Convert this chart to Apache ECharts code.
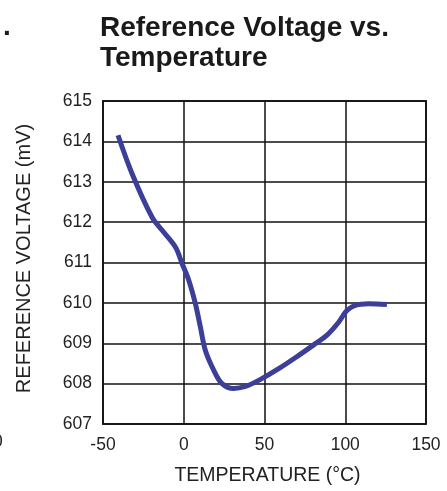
<!DOCTYPE html>
<html>
<head>
<meta charset="utf-8">
<script src="https://cdn.jsdelivr.net/npm/echarts@6/dist/echarts.min.js"></script>
<style>
  html, body { margin: 0; padding: 0; background: #fff; }
  #chart { width: 447px; height: 491px; }
</style>
</head>
<body>
<div id="chart"></div>
<script>
// Reference voltage (mV) measured across temperature (°C)
const temperature = [-40.7, -32, -19.6, -13.4, -5.1, -1, 3.1, 7.2, 10.3, 13.4, 18.6, 23.7, 30.9, 38.2, 46.4, 58.8, 71.2, 81.5, 88.7, 95.9, 101, 106.2, 114.5, 125.8];
const voltage     = [614.15, 613.2, 612.12, 611.8, 611.38, 610.97, 610.56, 609.98, 609.4, 608.82, 608.33, 608.0, 607.88, 607.93, 608.08, 608.37, 608.7, 608.99, 609.2, 609.52, 609.81, 609.94, 609.98, 609.96];

const xTicks = [-50, 0, 50, 100, 150];
const yTicks = [607, 608, 609, 610, 611, 612, 613, 614, 615];

const FONT = '"Liberation Sans", Arial, sans-serif';

const chart = echarts.init(document.getElementById('chart'), null, { renderer: 'canvas' });
chart.setOption({
  animation: false,
  title: {
    text: 'Reference Voltage vs.\nTemperature',
    left: 95,
    top: 8,
    textStyle: {
      fontFamily: FONT,
      fontSize: 28,
      fontWeight: 'bold',
      color: '#1a1a1a',
      lineHeight: 30
    }
  },
  graphic: [
    // edge of the neighbouring panel's heading and axis label
    { type: 'text', left: 3, top: 13, style: { text: '.', font: 'bold 28px ' + FONT, fill: '#1a1a1a' } },
    { type: 'text', left: -7, top: 433, style: { text: '0', font: '17.5px ' + FONT, fill: '#222' } }
  ],
  grid: {
    left: 103,
    top: 101,
    width: 323,
    height: 323,
    show: true,
    borderColor: '#333',
    borderWidth: 2,
    containLabel: false
  },
  xAxis: {
    type: 'value',
    min: xTicks[0],
    max: xTicks[xTicks.length - 1],
    interval: 50,
    name: 'TEMPERATURE (°C)',
    nameLocation: 'middle',
    nameGap: 42,
    nameTextStyle: { fontFamily: FONT, fontSize: 19.5, color: '#222', padding: [0, 0, 0, 6] },
    axisLine: { show: false },
    axisTick: { show: false },
    axisLabel: { fontFamily: FONT, fontSize: 17.5, color: '#222', margin: 12 },
    splitLine: { show: true, lineStyle: { color: '#111', width: 1.5 } }
  },
  yAxis: {
    type: 'value',
    min: yTicks[0],
    max: yTicks[yTicks.length - 1],
    interval: 1,
    name: 'REFERENCE VOLTAGE (mV)',
    nameLocation: 'middle',
    nameGap: 69,
    nameRotate: 90,
    nameTextStyle: { fontFamily: FONT, fontSize: 20, color: '#222', padding: [0, 0, 0, 8] },
    axisLine: { show: false },
    axisTick: { show: false },
    axisLabel: { fontFamily: FONT, fontSize: 17.5, color: '#222', margin: 11 },
    splitLine: { show: true, lineStyle: { color: '#111', width: 1.5 } }
  },
  series: [{
    type: 'line',
    data: temperature.map((t, i) => [t, voltage[i]]),
    smooth: 0.35,
    showSymbol: false,
    lineStyle: { color: '#3b3f98', width: 5, cap: 'butt', join: 'round' }
  }]
});
</script>
</body>
</html>
